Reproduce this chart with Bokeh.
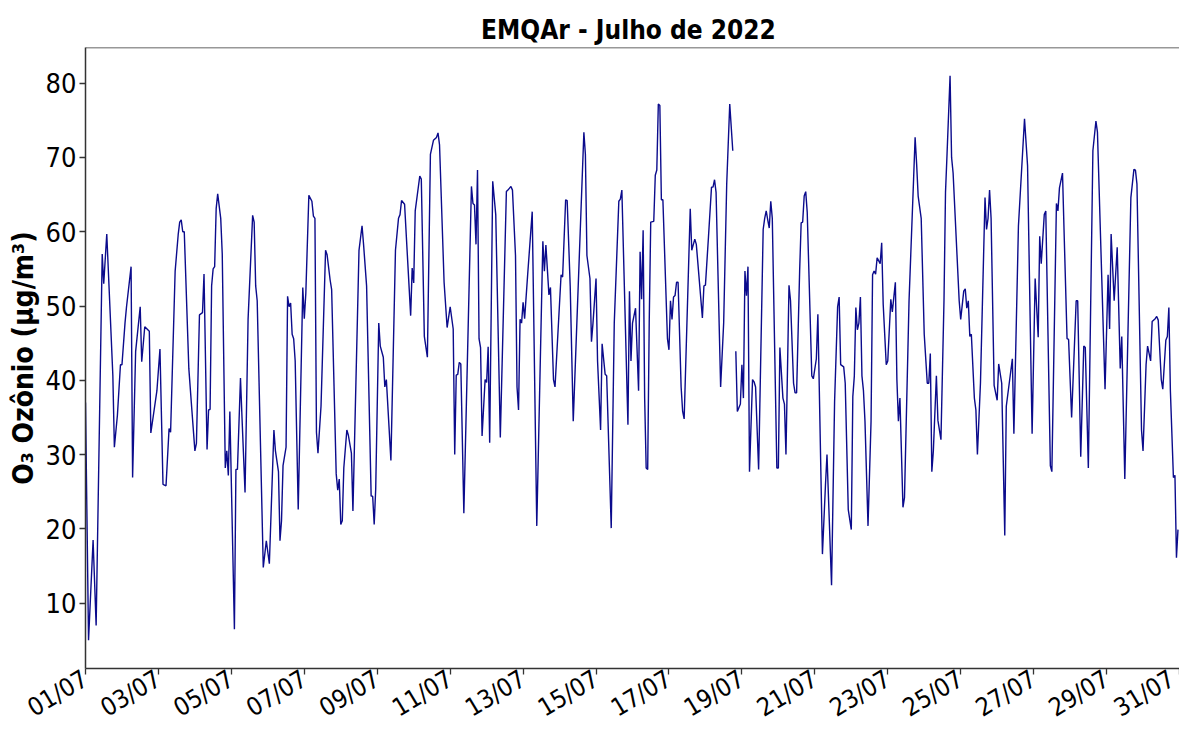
import math
from bokeh.plotting import figure
from bokeh.models import Range1d, FixedTicker, ColumnDataSource, Span
from bokeh.embed import file_html
from bokeh.resources import INLINE

NaN = float("nan")

# hours since 01/07 00:00 and ozone values (µg/m³)
hours = [0, 2, 5, 7, 11, 12, 14, 18, 19, 21, 23, 24, 26, 27, 30, 31, 33, 36, 37, 39,
         41, 42, 43, 47, 49, 51, 53, 55, 56, 59, 61, 62, 63, 64, 65, 68, 70, 72, 73, 75,
         77, 78, 80, 81, 82, 83, 84, 85, 86, 87, 89, 90, 92, 93, 94, 95, 98, 99, 100, 102,
         103, 105, 107, 110, 111, 112, 113, 117, 119, 121, 124, 125, 127, 128, 129, 130, 132, 133, 134, 135,
         136, 137, 138, 140, 143, 144, 145, 147, 149, 150, 151, 152, 153, 155, 158, 159, 161, 162, 165, 166,
         167, 168, 169, 170, 172, 173, 175, 176, 180, 182, 183, 185, 188, 189, 190, 191, 193, 194, 196, 197,
         198, 201, 204, 206, 207, 208, 210, 214, 215, 216, 217, 220, 221, 223, 225, 227, 229, 231, 232, 233,
         236, 238, 240, 242, 243, 244, 245, 246, 247, 249, 254, 255, 256, 257, 258, 259, 260, 261, 263, 264,
         265, 266, 268, 270, 273, 277, 278, 280, 281, 283, 284, 285, 286, 287, 288, 289, 291, 294, 297, 301,
         302, 303, 305, 306, 308, 309, 313, 314, 316, 317, 319, 321, 328, 329, 330, 332, 333, 334, 336, 337,
         339, 340, 342, 343, 346, 348, 351, 352, 353, 357, 358, 359, 360, 362, 364, 365, 366, 367, 368, 369,
         370, 371, 372, 374, 375, 376, 377, 378, 379, 380, 383, 384, 385, 386, 387, 388, 389, 390, 392, 393,
         394, 398, 399, 401, 402, 406, 407, 408, 410, 412, 413, 414, 415, 418, 420, 422, 424, 426, 427, 428,
         429, 431, 432, 433, 434, 435, 436, 437, 439, 440, 441, 443, 446, 447, 448, 449, 450, 451, 452, 455,
         456, 457, 459, 460, 461, 463, 464, 466, 467, 468, 470, 471, 472, 473, 474, 475, 478, 479, 481, 482,
         485, 487, 488, 491, 493, 495, 496, 497, 499, 500, 502, 504, 505, 506, 507, 508, 509, 510, 511, 512,
         513, 515, 517, 518, 519, 520, 521, 523, 524, 525, 527, 528, 530, 531, 533, 534, 535, 536, 538, 539,
         542, 545, 546, 547, 548, 550, 552, 554, 555, 556, 557, 558, 560, 561, 563, 565, 566, 567, 569, 570,
         571, 575, 576, 578, 579, 580, 581, 582, 583, 585, 586, 587, 589, 592, 593, 594, 595, 596, 598, 600,
         601, 603, 605, 606, 610, 611, 614, 618, 620, 623, 625, 627, 628, 629, 631, 632, 635, 636, 639, 640,
         641, 643, 644, 646, 647, 649, 652, 653, 655, 657, 658, 660, 663, 665, 666, 671, 673, 674, 675, 677,
         679, 681, 682, 684, 688, 690, 691, 692, 695, 696, 698, 699, 701, 702, 704, 705, 706, 708, 709, 711,
         712, 713, 714, 716, 717, 718, 719]

ozone = [37, 5, 18.5, 7, 57, 53, 59.7, 40.6, 31, 35.3, 42.1, 42.1, 47.7, 49.9, 55.3, 26.9, 43.9, 49.9, 42.5, 47.2,
         46.8, 46.6, 32.9, 38.6, 44.2, 26.0, 25.8, 33.5, 33.0, 54.7, 59.6, 61.3, 61.6, 60.0, 60.0, 41.6, 36.0, 30.5, 31.5, 48.8,
         49.1, 54.3, 30.7, 36.0, 36.1, 52.7, 55.0, 55.3, 63.1, 65.1, 61.8, 57.0, 28.2, 30.5, 27.2, 35.8, 6.5, 28.0, 28.0, 40.3,
         35.0, 24.9, 48.2, 62.2, 61.3, 52.7, 50.7, 14.8, 18.4, 15.3, 33.3, 30.5, 27.7, 18.4, 21.1, 28.5, 31.0, 51.3, 49.9, 50.4,
         46.2, 45.6, 42.6, 22.6, 52.5, 48.3, 51.7, 64.9, 64.1, 62.1, 61.8, 33.0, 30.2, 36.5, 57.5, 56.9, 53.5, 52.2, 27.4, 25.2,
         26.7, 20.6, 21.1, 28.2, 33.3, 32.6, 30.2, 22.4, 57.5, 60.8, 58.3, 52.7, 24.4, 24.4, 20.6, 25.4, 47.7, 44.6, 43.1, 39.1,
         40.1, 29.2, 57.5, 61.8, 62.3, 64.2, 63.7, 48.7, 55.1, 53.1, 62.8, 67.5, 67.1, 45.9, 43.1, 70.4, 72.3, 72.7, 73.3, 71.7,
         53.2, 47.1, 49.9, 46.9, 30.0, 40.7, 40.8, 42.4, 42.2, 22.1, 66.1, 63.8, 63.6, 58.3, 68.3, 45.6, 44.4, 32.5, 40.1, 39.7,
         44.5, 31.6, 66.8, 62.3, 32.3, 65.4, 65.6, 66.1, 65.6, 56.8, 39.1, 36.0, 48.2, 47.7, 50.5, 48.3, 54.2, 62.7, 20.4, 58.7,
         54.7, 58.2, 51.5, 52.5, 40.1, 39.1, 54.2, 53.9, 64.3, 64.2, 52.7, 34.5, 73.4, 70.4, 56.8, 53.7, 45.2, 47.7, 53.7, 42.6,
         33.3, 44.9, 40.8, 40.6, 20.1, 47.7, 64.1, 64.4, 65.6, 34.0, 52.0, 42.6, 47.7, 49.7, 38.6, 57.3, 50.9, 60.2, 37.6, 28.2,
         28.0, 47.7, 61.3, 61.4, 67.6, 68.3, 77.2, 77.0, 64.3, 64.3, 45.6, 44.1, 50.7, 48.2, 51.2, 51.4, 53.2, 53.2, 39.1, 35.8,
         34.8, 63.1, 57.5, 59.0, 58.3, 48.4, 52.7, 52.8, 59.3, 66.0, 66.0, 67.0, 65.3, 39.1, 47.7, 66.4, 77.2, 70.9, NaN, 43.9,
         35.8, 36.8, 42.1, 37.6, 54.7, 51.4, 55.3, 27.7, 40.1, 39.8, 39.1, 28.0, 60.3, 61.8, 62.8, 61.6, 60.5, 64.1, 61.8, 28.2,
         28.2, 44.4, 37.6, 36.8, 30.0, 52.8, 50.7, 39.6, 38.3, 38.3, 54.7, 61.2, 61.3, 64.8, 65.4, 62.6, 40.6, 40.2, 42.9, 48.9,
         16.6, 25.9, 30.0, 12.4, 37.1, 49.9, 51.2, 42.1, 41.8, 39.6, 22.6, 19.9, 37.8, 40.6, 49.8, 46.8, 47.7, 51.2, 40.6, 38.6,
         34.5, 20.4, 34.5, 54.2, 54.7, 54.3, 56.5, 55.7, 58.5, 50.2, 42.1, 42.6, 50.9, 49.2, 53.2, 40.1, 34.5, 37.6, 22.9, 24.2,
         50.7, 67.1, 72.7, 69.1, 64.8, 61.8, 46.2, 39.6, 39.6, 43.6, 27.7, 30.5, 40.6, 34.6, 32.0, 50.7, 65.3, 70.4, 81.0, 70.0,
         67.9, 50.7, 48.2, 52.0, 52.3, 49.7, 50.7, 45.9, 46.2, 37.6, 36.0, 30.0, 39.6, 64.6, 60.3, 61.8, 65.6, 61.8, 39.3, 37.3,
         42.2, 39.6, 19.1, 36.5, 42.9, 32.8, 60.8, 75.2, 68.9, 32.8, 53.7, 45.8, 59.4, 55.7, 62.3, 62.8, 28.5, 27.7, 63.8, 62.8,
         65.9, 67.9, 60.3, 45.6, 45.5, 35.0, 50.7, 50.7, 29.7, 44.6, 44.4, 28.2, 70.9, 74.9, 73.4, 38.8, 54.2, 46.9, 59.7, 50.7,
         57.9, 41.6, 45.9, 26.7, 64.6, 68.4, 68.3, 66.4, 33.3, 30.5, 42.1, 44.6, 42.6, 47.9, 48.3, 48.6, 48.1, 40.1, 38.8, 45.4,
         45.9, 49.8, 38.6, 26.9, 27.2, 16.1, 19.9]

x_tick_labels = ["01/07", "03/07", "05/07", "07/07", "09/07", "11/07", "13/07", "15/07",
                 "17/07", "19/07", "21/07", "23/07", "25/07", "27/07", "29/07", "31/07"]
y_ticks = [10, 20, 30, 40, 50, 60, 70, 80]

title_text = "EMQAr - Julho de  2022"
y_label = "O\u2083 Oz\u00f4nio (\u03bcg/m\u00b3)"

FONT = "DejaVu Sans Condensed"
SPINE = "#333333"

src = ColumnDataSource(dict(h=hours, v=ozone))

p = figure(width=1179, height=737, output_backend="svg", toolbar_location=None,
           x_range=Range1d(0, 720), y_range=Range1d(1.2, 84.8),
           min_border_left=85, min_border_right=0, min_border_top=47, min_border_bottom=69,
           title=title_text)

p.line("h", "v", source=src, line_color="#0b0b8c", line_width=1.4)

p.title.align = "center"
p.title.text_font = FONT
p.title.text_font_size = "26px"
p.title.text_font_style = "bold"
p.title.text_color = "black"
p.title.standoff = 6
p.title.offset = 7

p.grid.visible = False
p.outline_line_color = None
p.add_layout(Span(location=p.y_range.end, dimension="width",
                  line_color=SPINE, line_width=1.5))

tick_pos = [(int(s[:2]) - 1) * 24 for s in x_tick_labels]
p.xaxis.ticker = FixedTicker(ticks=tick_pos)
p.xaxis.major_label_overrides = {t: s for t, s in zip(tick_pos, x_tick_labels)}
p.xaxis.major_label_orientation = math.radians(31)
p.yaxis.ticker = FixedTicker(ticks=y_ticks)

for ax in (p.xaxis[0], p.yaxis[0]):
    ax.axis_line_color = SPINE
    ax.axis_line_width = 1.5
    ax.major_tick_line_color = SPINE
    ax.major_tick_line_width = 1.3
    ax.major_tick_out = 6
    ax.major_tick_in = 0
    ax.minor_tick_line_color = None
    ax.major_label_text_font = FONT
    ax.major_label_text_color = "black"

p.xaxis.major_label_text_font_size = "25px"
p.xaxis.major_label_standoff = 2
p.yaxis.major_label_text_font_size = "27px"
p.yaxis.major_label_standoff = 3

p.yaxis.axis_label = y_label
p.yaxis.axis_label_text_font = FONT
p.yaxis.axis_label_text_font_size = "28px"
p.yaxis.axis_label_text_font_style = "bold"
p.yaxis.axis_label_text_color = "black"
p.yaxis.axis_label_standoff = 3

open("out.html", "w").write(file_html(p, INLINE))
